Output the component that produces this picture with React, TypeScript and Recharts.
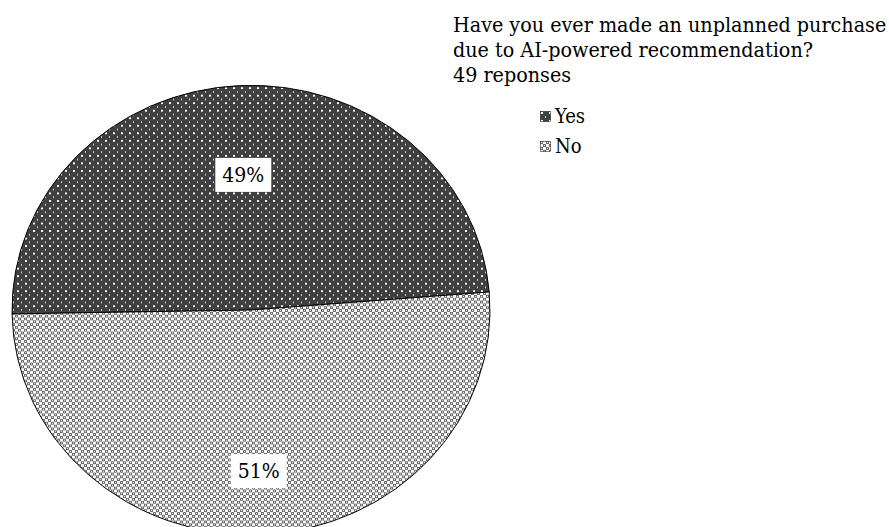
import { PieChart, Pie, Cell, Legend } from 'recharts'

const categories = ['Yes', 'No']
const shares = [49, 51]
const patternIds = ['patYes', 'patNo']

const titleLines = [
  'Have you ever made an unplanned purchase',
  'due to AI-powered recommendation?',
  '49 reponses',
]

const data = categories.map((name, i) => ({ name, value: shares[i] }))

const FONT = '"DejaVu Serif Condensed", "DejaVu Serif", serif'
const SQUASH = 0.94
const CY = 310
const RAD = Math.PI / 180

function Patterns() {
  return (
    <svg width={0} height={0} style={{ position: 'absolute' }}>
      <defs>
        <pattern id="patYes" width={8} height={8} patternUnits="userSpaceOnUse">
          <rect width={8} height={8} fill="#404040" />
          <rect x={1} y={1} width={2} height={2} fill="#ffffff" />
          <rect x={5} y={5} width={1} height={2} fill="#cfcfcf" />
        </pattern>
        <pattern id="patNo" width={6} height={6} patternUnits="userSpaceOnUse">
          <rect width={6} height={6} fill="#ffffff" />
          <rect x={0} y={0} width={3} height={3} fill="#6a6a6a" />
          <rect x={3} y={3} width={3} height={3} fill="#6a6a6a" />
          <rect x={1} y={1} width={1} height={1} fill="#ffffff" />
          <rect x={4} y={4} width={1} height={1} fill="#ffffff" />
        </pattern>
      </defs>
    </svg>
  )
}

function PctLabel(props: any) {
  const { cx, cy, midAngle, outerRadius, value } = props
  const r = outerRadius * 0.66
  const x = cx + r * Math.cos(-midAngle * RAD)
  const y = cy + r * Math.sin(-midAngle * RAD) + 13 / SQUASH
  return (
    <g transform={`translate(${x},${y}) scale(1,${1 / SQUASH})`}>
      <rect x={-28} y={-17} width={56} height={34} fill="#fff" />
      <text x={0} y={7} textAnchor="middle" fontFamily={FONT} fontStretch="condensed" fontSize={21} fill="#000">
        {`${value}%`}
      </text>
    </g>
  )
}

function LegendBox({ payload }: any) {
  const items = [...(payload || [])].sort(
    (a: any, b: any) => categories.indexOf(a.value) - categories.indexOf(b.value)
  )
  return (
    <div style={{ fontFamily: FONT, fontStretch: 'condensed', fontSize: 20, color: '#000' }}>
      {items.map((p: any) => (
        <div key={p.value} style={{ display: 'flex', alignItems: 'center', height: 30 }}>
          <svg width={11} height={11} style={{ marginRight: 4 }}>
            <rect x={0.5} y={0.5} width={10} height={10}
              fill={`url(#${patternIds[categories.indexOf(p.value)]})`} stroke="#000" strokeWidth={0.5} />
          </svg>
          <span>{p.value}</span>
        </div>
      ))}
    </div>
  )
}

export default function App() {
  return (
    <div className="pie-wrap" style={{ position: 'fixed', left: 0, top: 0, width: 889, height: 527, background: '#fff', overflow: 'hidden' }}>
      <style>{`.pie-wrap svg.recharts-surface { transform: scaleY(${SQUASH}); transform-origin: 0 ${CY}px; }`}</style>
      <Patterns />
      <div style={{ position: 'absolute', left: 453, top: 12, fontFamily: FONT, fontStretch: 'condensed', fontSize: 21.3, lineHeight: '25px', color: '#000', whiteSpace: 'nowrap' }}>
        {titleLines.map((t, i) => <div key={i}>{t}</div>)}
      </div>
      <PieChart width={889} height={600} margin={{ top: 0, right: 0, bottom: 0, left: 0 }}>
        <Pie
          data={data}
          dataKey="value"
          nameKey="name"
          cx={251}
          cy={CY}
          outerRadius={239}
          startAngle={4.6}
          endAngle={364.6}
          stroke="#000"
          strokeWidth={1}
          label={PctLabel}
          labelLine={false}
          isAnimationActive={false}
        >
          {data.map((d, i) => (
            <Cell key={d.name} fill={`url(#${patternIds[i]})`} />
          ))}
        </Pie>
        <Legend
          layout="vertical"
          content={LegendBox}
          wrapperStyle={{ position: 'absolute', left: 540, top: 101, width: 120 }}
        />
      </PieChart>
    </div>
  )
}
